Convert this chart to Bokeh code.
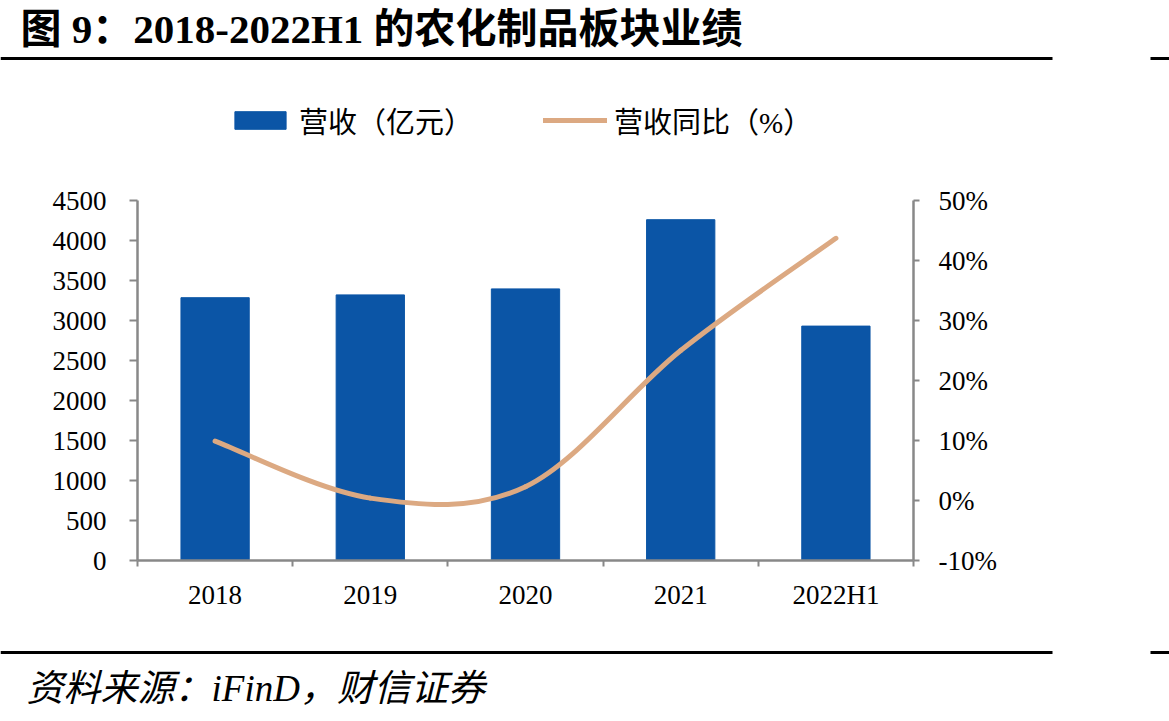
from bokeh.plotting import figure
from bokeh.models import (Range1d, LinearAxis, FixedTicker, Legend, LegendItem,
                          Label, BoxAnnotation)
from bokeh.layouts import column
from bokeh.embed import file_html
from bokeh.resources import INLINE

# ---------------- data ----------------
categories = ["2018", "2019", "2020", "2021", "2022H1"]
revenue = [3285, 3320, 3395, 4260, 2930]          # 营收（亿元）
yoy = [9.9, 0.4, 2.3, 25.0, 43.7]                 # 营收同比（%）
left_ticks = [0, 500, 1000, 1500, 2000, 2500, 3000, 3500, 4000, 4500]
right_ticks = [-10, 0, 10, 20, 30, 40, 50]
legend_labels = ["营收（亿元）", "营收同比（%）"]
title_text = "图 9：2018-2022H1 的农化制品板块业绩"
source_text = "资料来源：iFinD，财信证券"

BAR_COLOR = "#0B55A6"
LINE_COLOR = "#DCA982"
AXIS_COLOR = "#888888"
FONT = "Liberation Serif, Noto Sans CJK SC"

xs = list(range(len(categories)))

# smooth (Catmull-Rom -> cubic Bezier) control points derived from the data
pts = list(zip(xs, yoy))
n = len(pts)
x0s, y0s, x1s, y1s, cx0s, cy0s, cx1s, cy1s = ([] for _ in range(8))
for i in range(n - 1):
    p0 = pts[i - 1] if i > 0 else pts[i]
    p1 = pts[i]
    p2 = pts[i + 1]
    p3 = pts[i + 2] if i + 2 < n else pts[i + 1]
    x0s.append(p1[0]); y0s.append(p1[1])
    x1s.append(p2[0]); y1s.append(p2[1])
    cx0s.append(p1[0] + (p2[0] - p0[0]) / 6.0)
    cy0s.append(p1[1] + (p2[1] - p0[1]) / 6.0)
    cx1s.append(p2[0] - (p3[0] - p1[0]) / 6.0)
    cy1s.append(p2[1] - (p3[1] - p1[1]) / 6.0)

W = 1169

# ---------------- header ----------------
header = figure(width=W, height=70, x_range=Range1d(0, W), y_range=Range1d(70, 0),
                output_backend="svg", toolbar_location=None, min_border=0,
                x_axis_location=None, y_axis_location=None, frame_align=False)
header.grid.visible = False
header.outline_line_color = None
header.add_layout(Label(x=20, y=28, text=title_text, text_font=FONT,
                        text_font_style="bold", text_font_size="41px",
                        text_baseline="middle", text_color="black"))
header.add_layout(BoxAnnotation(left=0, right=1052, top=56.5, bottom=59.5,
                                fill_color="black", fill_alpha=1, line_color=None))
header.add_layout(BoxAnnotation(left=1150, right=W, top=56.5, bottom=59.5,
                                fill_color="black", fill_alpha=1, line_color=None))

# ---------------- main chart ----------------
# frame spans 100..560 px vertically; axes are bounded to their tick ranges
FRAME_H = 460.0
AXIS_H = 360.0
left_top = left_ticks[-1] * FRAME_H / AXIS_H
right_top = right_ticks[0] + (right_ticks[-1] - right_ticks[0]) * FRAME_H / AXIS_H

p = figure(width=W, height=570, x_range=Range1d(-0.5, 4.5),
           y_range=Range1d(left_ticks[0], left_top),
           output_backend="svg", toolbar_location=None,
           min_border_left=137, min_border_right=256,
           min_border_top=30, min_border_bottom=80, frame_align=False)
p.grid.visible = False
p.outline_line_color = None
p.extra_y_ranges = {"pct": Range1d(right_ticks[0], right_top)}

bars = p.vbar(x=xs, top=revenue, width=0.44, fill_color=BAR_COLOR,
              line_color=BAR_COLOR)
curve = p.bezier(x0=x0s, y0=y0s, x1=x1s, y1=y1s, cx0=cx0s, cy0=cy0s,
                 cx1=cx1s, cy1=cy1s, y_range_name="pct",
                 line_color=LINE_COLOR, line_width=5, line_cap="round")

# x axis
xa = p.xaxis[0]
xa.ticker = FixedTicker(ticks=xs, minor_ticks=[-0.5, 0.5, 1.5, 2.5, 3.5, 4.5])
xa.major_label_overrides = {i: c for i, c in zip(xs, categories)}
xa.major_tick_out = 0
xa.major_tick_in = 0
xa.minor_tick_out = 6
xa.minor_tick_in = 0
xa.minor_tick_line_color = AXIS_COLOR
xa.minor_tick_line_width = 2
xa.axis_line_color = AXIS_COLOR
xa.axis_line_width = 2.5
xa.major_label_standoff = 13
xa.major_label_text_font = FONT
xa.major_label_text_font_size = "27px"
xa.major_label_text_color = "black"

# left y axis
ya = p.yaxis[0]
ya.ticker = FixedTicker(ticks=left_ticks)
ya.bounds = (left_ticks[0], left_ticks[-1])
ya.major_tick_out = 8
ya.major_tick_in = 0
ya.minor_tick_line_color = None
ya.major_tick_line_color = AXIS_COLOR
ya.major_tick_line_width = 2
ya.axis_line_color = AXIS_COLOR
ya.axis_line_width = 2.5
ya.major_label_standoff = 23
ya.major_label_text_font = FONT
ya.major_label_text_font_size = "27px"
ya.major_label_text_color = "black"

# right y axis
ra = LinearAxis(y_range_name="pct", ticker=FixedTicker(ticks=right_ticks),
                bounds=(right_ticks[0], right_ticks[-1]))
ra.major_label_overrides = {t: f"{t}%" for t in right_ticks}
ra.major_tick_out = 6
ra.major_tick_in = 0
ra.minor_tick_line_color = None
ra.major_tick_line_color = AXIS_COLOR
ra.major_tick_line_width = 2
ra.axis_line_color = AXIS_COLOR
ra.axis_line_width = 2.5
ra.major_label_standoff = 19
ra.major_label_text_font = FONT
ra.major_label_text_font_size = "27px"
ra.major_label_text_color = "black"
p.add_layout(ra, "right")

legend = Legend(items=[LegendItem(label=legend_labels[0], renderers=[bars]),
                       LegendItem(label=legend_labels[1], renderers=[curve])],
                orientation="horizontal", location=(91, 419),
                glyph_width=64, glyph_height=22, label_height=22,
                label_standoff=7, spacing=70, padding=0, margin=0,
                border_line_color=None, background_fill_alpha=0,
                label_text_font=FONT, label_text_font_size="29px",
                label_text_color="black", label_text_baseline="middle")
p.add_layout(legend)

# ---------------- footer ----------------
footer = figure(width=W, height=81, x_range=Range1d(0, W), y_range=Range1d(81, 0),
                output_backend="svg", toolbar_location=None, min_border=0,
                x_axis_location=None, y_axis_location=None, frame_align=False)
footer.grid.visible = False
footer.outline_line_color = None
footer.add_layout(BoxAnnotation(left=0, right=1052, top=10.5, bottom=13.5,
                                fill_color="black", fill_alpha=1, line_color=None))
footer.add_layout(BoxAnnotation(left=1150, right=W, top=10.5, bottom=13.5,
                                fill_color="black", fill_alpha=1, line_color=None))
footer.add_layout(Label(x=26, y=48, text=source_text, text_font=FONT,
                        text_font_style="italic", text_font_size="37px",
                        text_baseline="middle", text_color="black"))

layout = column(header, p, footer, spacing=0)
open("out.html", "w").write(file_html(layout, INLINE))
